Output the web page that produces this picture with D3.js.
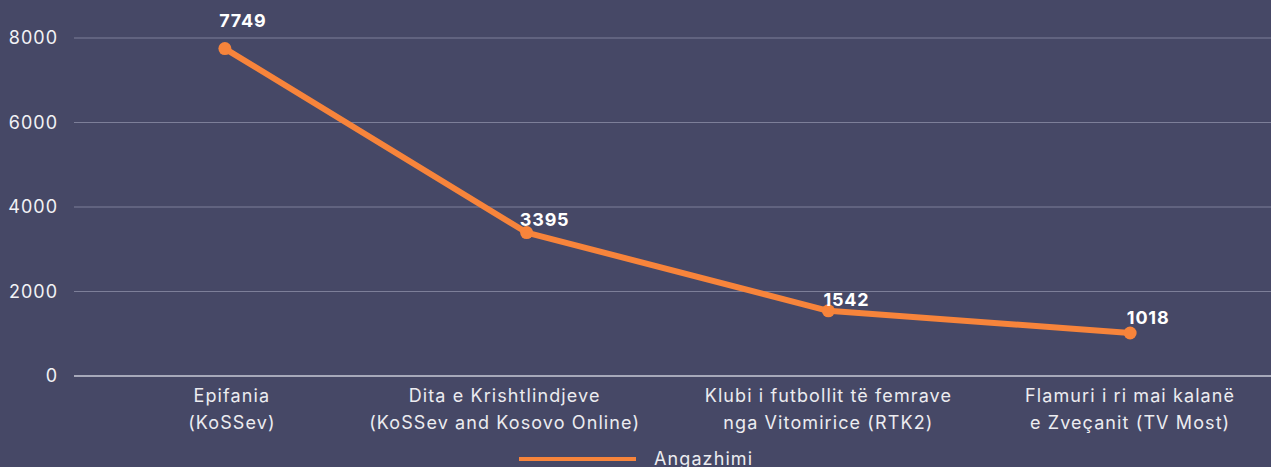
<!DOCTYPE html>
<html lang="en">
<head>
  <meta charset="UTF-8">
  <title>Angazhimi</title>
  <style>
    html, body { margin: 0; padding: 0; background: #464866; overflow: hidden; }
    svg { display: block; font-family: Inter, "Noto Sans", sans-serif; }
    .tick-label { fill: #f2f2f5; font-size: 18px; letter-spacing: 1px; }
    .cat-label { fill: #ececf0; font-size: 18px; letter-spacing: 1.1px; }
    .value-label { fill: #ffffff; font-size: 18px; font-weight: 700; letter-spacing: 0.8px; }
  </style>
  <script src="https://d3js.org/d3.v7.min.js"></script>
</head>
<body>
<div id="chart"></div>
<script>
  // data
  var categories = [
    ["Epifania", "(KoSSev)"],
    ["Dita e Krishtlindjeve", "(KoSSev and Kosovo Online)"],
    ["Klubi i futbollit të femrave", "nga Vitomirice (RTK2)"],
    ["Flamuri i ri mai kalanë", "e Zveçanit (TV Most)"]
  ];
  var values = [7749, 3395, 1542, 1018];
  var yTicks = [0, 2000, 4000, 6000, 8000];
  var seriesName = "Angazhimi";

  var width = 1271, height = 467;
  var margin = { left: 74, right: -10, top: 38, bottom: 91 };

  var svg = d3.select("#chart").append("svg")
    .attr("width", width)
    .attr("height", height);

  var x = d3.scaleBand()
    .domain(d3.range(categories.length))
    .range([margin.left, width - margin.right]);

  var y = d3.scaleLinear()
    .domain([0, 8000])
    .range([height - margin.bottom, margin.top]);

  // grid lines
  svg.append("g")
    .selectAll("line")
    .data(yTicks)
    .enter().append("line")
    .attr("x1", margin.left)
    .attr("x2", width)
    .attr("y1", d => y(d))
    .attr("y2", d => y(d))
    .attr("stroke", d => d === 0 ? "#a7a9ba" : "#7d7f99")
    .attr("stroke-width", d => d === 0 ? 2 : 1);

  // y tick labels
  svg.append("g")
    .selectAll("text")
    .data(yTicks)
    .enter().append("text")
    .attr("class", "tick-label")
    .attr("x", 58)
    .attr("y", d => y(d) + 6)
    .attr("text-anchor", "end")
    .text(d => d);

  // category labels (first two are a bit off-centre in the original)
  var catShift = [7, -22, 0, 0];
  var cat = svg.append("g")
    .selectAll("text")
    .data(categories)
    .enter().append("text")
    .attr("class", "cat-label")
    .attr("text-anchor", "middle")
    .attr("transform", (d, i) => "translate(" + (x(i) + x.bandwidth() / 2 + catShift[i]) + "," + (y(0) + 26) + ")");
  cat.selectAll("tspan")
    .data(d => d)
    .enter().append("tspan")
    .attr("x", 0)
    .attr("dy", (d, i) => i === 0 ? 0 : 27)
    .text(d => d);

  // line
  var line = d3.line()
    .x((d, i) => x(i) + x.bandwidth() / 2)
    .y(d => y(d));

  svg.append("path")
    .datum(values)
    .attr("fill", "none")
    .attr("stroke", "#f7843b")
    .attr("stroke-width", 6)
    .attr("stroke-linejoin", "round")
    .attr("d", line);

  svg.append("g")
    .selectAll("circle")
    .data(values)
    .enter().append("circle")
    .attr("cx", (d, i) => x(i) + x.bandwidth() / 2)
    .attr("cy", d => y(d))
    .attr("r", 6.5)
    .attr("fill", "#f7843b");

  // value labels
  var labelLift = [22, 7, 5, 9];
  svg.append("g")
    .selectAll("text")
    .data(values)
    .enter().append("text")
    .attr("class", "value-label")
    .attr("text-anchor", "middle")
    .attr("x", (d, i) => x(i) + x.bandwidth() / 2 + 18)
    .attr("y", (d, i) => y(d) - labelLift[i])
    .text(d => d);

  // legend
  var legend = svg.append("g").attr("transform", "translate(519,459)");
  legend.append("line")
    .attr("x1", 0).attr("x2", 117)
    .attr("stroke", "#f7843b")
    .attr("stroke-width", 4);
  legend.append("text")
    .attr("class", "cat-label")
    .attr("x", 135)
    .attr("y", 6)
    .text(seriesName);
</script>
</body>
</html>
